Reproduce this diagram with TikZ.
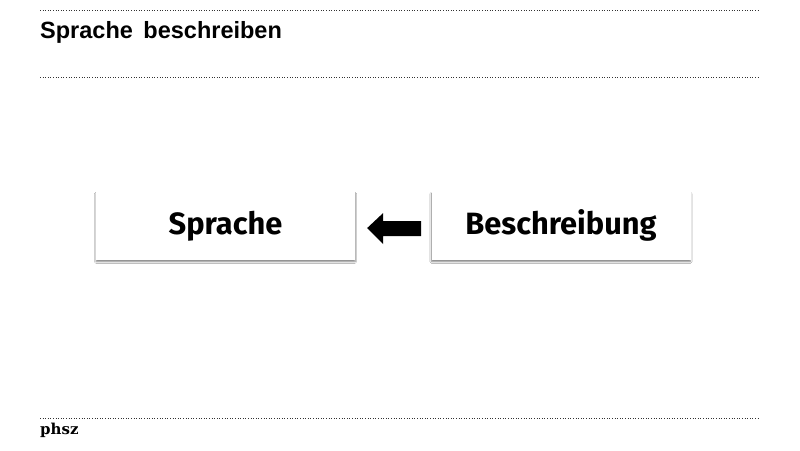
\documentclass[tikz,border=0pt]{standalone}
\usepackage{fontspec}
\setmainfont{Liberation Sans}
\newfontfamily\boxfont{Fira Sans}
\newfontfamily\logofont{DejaVu Serif}
\usetikzlibrary{shadows.blur}
\begin{document}
\begin{tikzpicture}[x=1pt,y=-1pt,
  rule/.style={line width=0.6pt, dotted, black!80},
  wordbox/.style={fill=white, draw=none, minimum width=259pt, minimum height=68pt, inner sep=0pt,
    text height=24pt, text depth=6pt,
    blur shadow={shadow xshift=0pt, shadow yshift=-2.2pt, shadow blur radius=1.6pt, shadow opacity=50, shadow blur steps=6},
    font=\boxfont\bfseries\fontsize{30.8}{34}\selectfont, text=black},
  bigarrow/.style={fill=black, draw=none}]
\useasboundingbox (0,0) rectangle (800,450);
\fill[white] (0,0) rectangle (800,450);
\draw[rule] (40,10) -- (760,10);
\draw[rule] (40,77) -- (760,77);
\draw[rule] (40,418) -- (760,418);
\node[anchor=base west, font=\bfseries\fontsize{23.5}{26}\selectfont, inner sep=0pt] (title) at (40,38) {Sprache\hspace{4pt} beschreiben};
\node[anchor=base west, font=\logofont\bfseries\fontsize{15}{18}\selectfont, inner sep=0pt] (logo) at (40,434) {phsz};
\node[wordbox] (sprache) at (225.5,225.5) {Sprache};
\node[wordbox] (beschr) at (561,225.5) {Beschreibung};
\coordinate (tip) at ([xshift=12pt]sprache.east |- 0,228);
\filldraw[bigarrow] (tip) -- ++(16,-15) -- ++(0,8) -- ++(38,0) -- ++(0,15) -- ++(-38,0) -- ++(0,8) -- cycle;
\end{tikzpicture}
\end{document}
